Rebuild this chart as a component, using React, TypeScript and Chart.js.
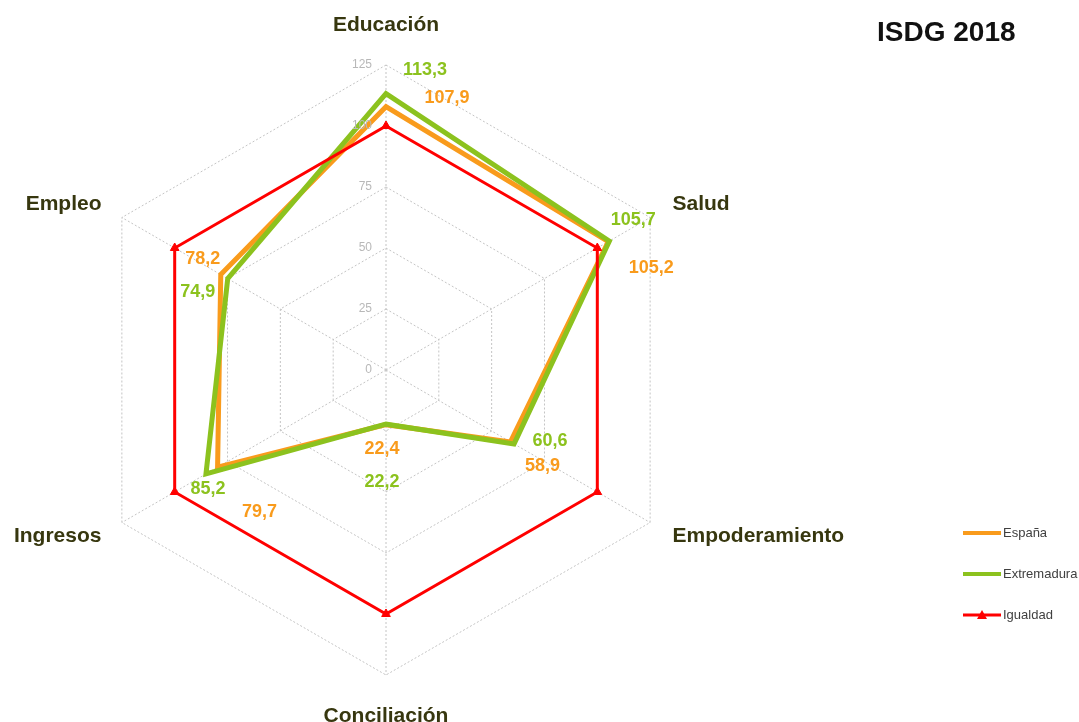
import React, { useEffect, useRef } from "react";
import { Chart, registerables } from "chart.js";

Chart.register(...registerables);

const categories = ["Educación", "Salud", "Empoderamiento", "Conciliación", "Ingresos", "Empleo"];
const espana = [107.9, 105.2, 58.9, 22.4, 79.7, 78.2];
const extremadura = [113.3, 105.7, 60.6, 22.2, 85.2, 74.9];
const igualdad = [100, 100, 100, 100, 100, 100];
const tickValues = [0, 25, 50, 75, 100, 125];
const seriesNames = ["España", "Extremadura", "Igualdad"];
const titleText = "ISDG 2018";

const ORANGE = "#F99B1C";
const GREEN = "#8CC21E";
const RED = "#FF0000";
const FONT = "'Liberation Sans', Arial, sans-serif";

// label offsets (px) relative to each point, per series
const labelOffsets: number[][][] = [
  [[61, -9], [43, 26], [32, 24], [-4, 24], [42, 45], [-18, -16]],
  [[39, -24], [24, -21], [36, -3], [-4, 58], [2, 15], [-30, 13]],
];

const fmt = (v: number) => v.toFixed(1).replace(".", ",");

const customPlugin = {
  id: "custom",
  afterDraw(chart: any) {
    const ctx = chart.ctx;
    const scale = chart.scales.r;
    ctx.save();
    // tick labels
    ctx.font = `12px ${FONT}`;
    ctx.fillStyle = "#B8B8B8";
    ctx.textAlign = "right";
    ctx.textBaseline = "middle";
    tickValues.forEach((v) => {
      const d = scale.getDistanceFromCenterForValue(v);
      ctx.fillText(String(v), scale.xCenter - 14, scale.yCenter - d);
    });
    // point labels
    ctx.font = `bold 21px ${FONT}`;
    ctx.fillStyle = "#37370F";
    categories.forEach((c, i) => {
      const p = scale.getPointPosition(i, scale.drawingArea + 27);
      const dx = p.x - scale.xCenter;
      let y = p.y;
      let x = p.x;
      if (Math.abs(dx) < 1) {
        ctx.textAlign = "center";
        y += p.y < scale.yCenter ? -13 : 14;
      } else {
        ctx.textAlign = dx > 0 ? "left" : "right";
        x += dx > 0 ? -1 : 3;
      }
      ctx.fillText(c, x, y);
    });
    ctx.restore();
  },
  afterDatasetsDraw(chart: any) {
    const ctx = chart.ctx;
    ctx.save();
    ctx.font = `bold 18px ${FONT}`;
    ctx.textAlign = "center";
    ctx.textBaseline = "middle";
    [0, 1].forEach((di) => {
      const meta = chart.getDatasetMeta(di);
      const ds = chart.data.datasets[di];
      ctx.fillStyle = ds.borderColor;
      meta.data.forEach((pt: any, i: number) => {
        const off = labelOffsets[di][i];
        ctx.fillText(fmt(ds.data[i]), pt.x + off[0], pt.y + off[1]);
      });
    });
    // title
    ctx.font = `bold 28px ${FONT}`;
    ctx.fillStyle = "#111111";
    ctx.textAlign = "left";
    ctx.fillText(titleText, 877, 33);
    // legend
    const ys = [533, 574, 615];
    ctx.font = `13px ${FONT}`;
    chart.data.datasets.forEach((ds: any, i: number) => {
      const y = ys[i];
      ctx.strokeStyle = ds.borderColor;
      ctx.lineWidth = i === 2 ? 3 : 4;
      ctx.beginPath();
      ctx.moveTo(963, y);
      ctx.lineTo(1001, y);
      ctx.stroke();
      if (i === 2) {
        ctx.fillStyle = ds.borderColor;
        ctx.beginPath();
        ctx.moveTo(982, y - 5);
        ctx.lineTo(987, y + 4);
        ctx.lineTo(977, y + 4);
        ctx.closePath();
        ctx.fill();
      }
      ctx.fillStyle = "#404040";
      ctx.textAlign = "left";
      ctx.fillText(ds.label, 1003, y);
    });
    ctx.restore();
  },
};

export default function App() {
  const ref = useRef<HTMLCanvasElement>(null);
  useEffect(() => {
    document.body.style.margin = "0";
    const chart = new Chart(ref.current as HTMLCanvasElement, {
      type: "radar",
      data: {
        labels: categories,
        datasets: [
          {
            label: seriesNames[0],
            data: espana,
            borderColor: ORANGE,
            backgroundColor: "transparent",
            borderWidth: 5,
            pointRadius: 0,
            fill: false,
            order: 2,
          },
          {
            label: seriesNames[1],
            data: extremadura,
            borderColor: GREEN,
            backgroundColor: "transparent",
            borderWidth: 5,
            pointRadius: 0,
            fill: false,
            order: 1,
          },
          {
            label: seriesNames[2],
            data: igualdad,
            borderColor: RED,
            backgroundColor: "transparent",
            borderWidth: 3,
            pointStyle: "triangle",
            pointRadius: 5,
            pointBackgroundColor: RED,
            pointBorderColor: RED,
            pointBorderWidth: 1,
            fill: false,
            order: 0,
          },
        ],
      },
      options: {
        responsive: false,
        animation: false,
        layout: { padding: { left: 81, right: 388, top: 65, bottom: 47 } },
        plugins: { legend: { display: false }, tooltip: { enabled: false } },
        elements: { line: { tension: 0, borderJoinStyle: "miter" } },
        scales: {
          r: {
            min: 0,
            max: 125,
            ticks: { display: false, stepSize: 25 },
            pointLabels: { display: false },
            grid: { color: "#C4C4C4", lineWidth: 1 },
            border: { dash: [2, 2] },
            angleLines: { color: "#C4C4C4", lineWidth: 1, borderDash: [2, 2] },
          },
        },
      },
      plugins: [customPlugin],
    } as any);
    return () => chart.destroy();
  }, []);
  return (
    <div style={{ position: "absolute", left: 0, top: 0, width: 1079, height: 722 }}>
      <canvas ref={ref} width={1079} height={722} />
    </div>
  );
}
